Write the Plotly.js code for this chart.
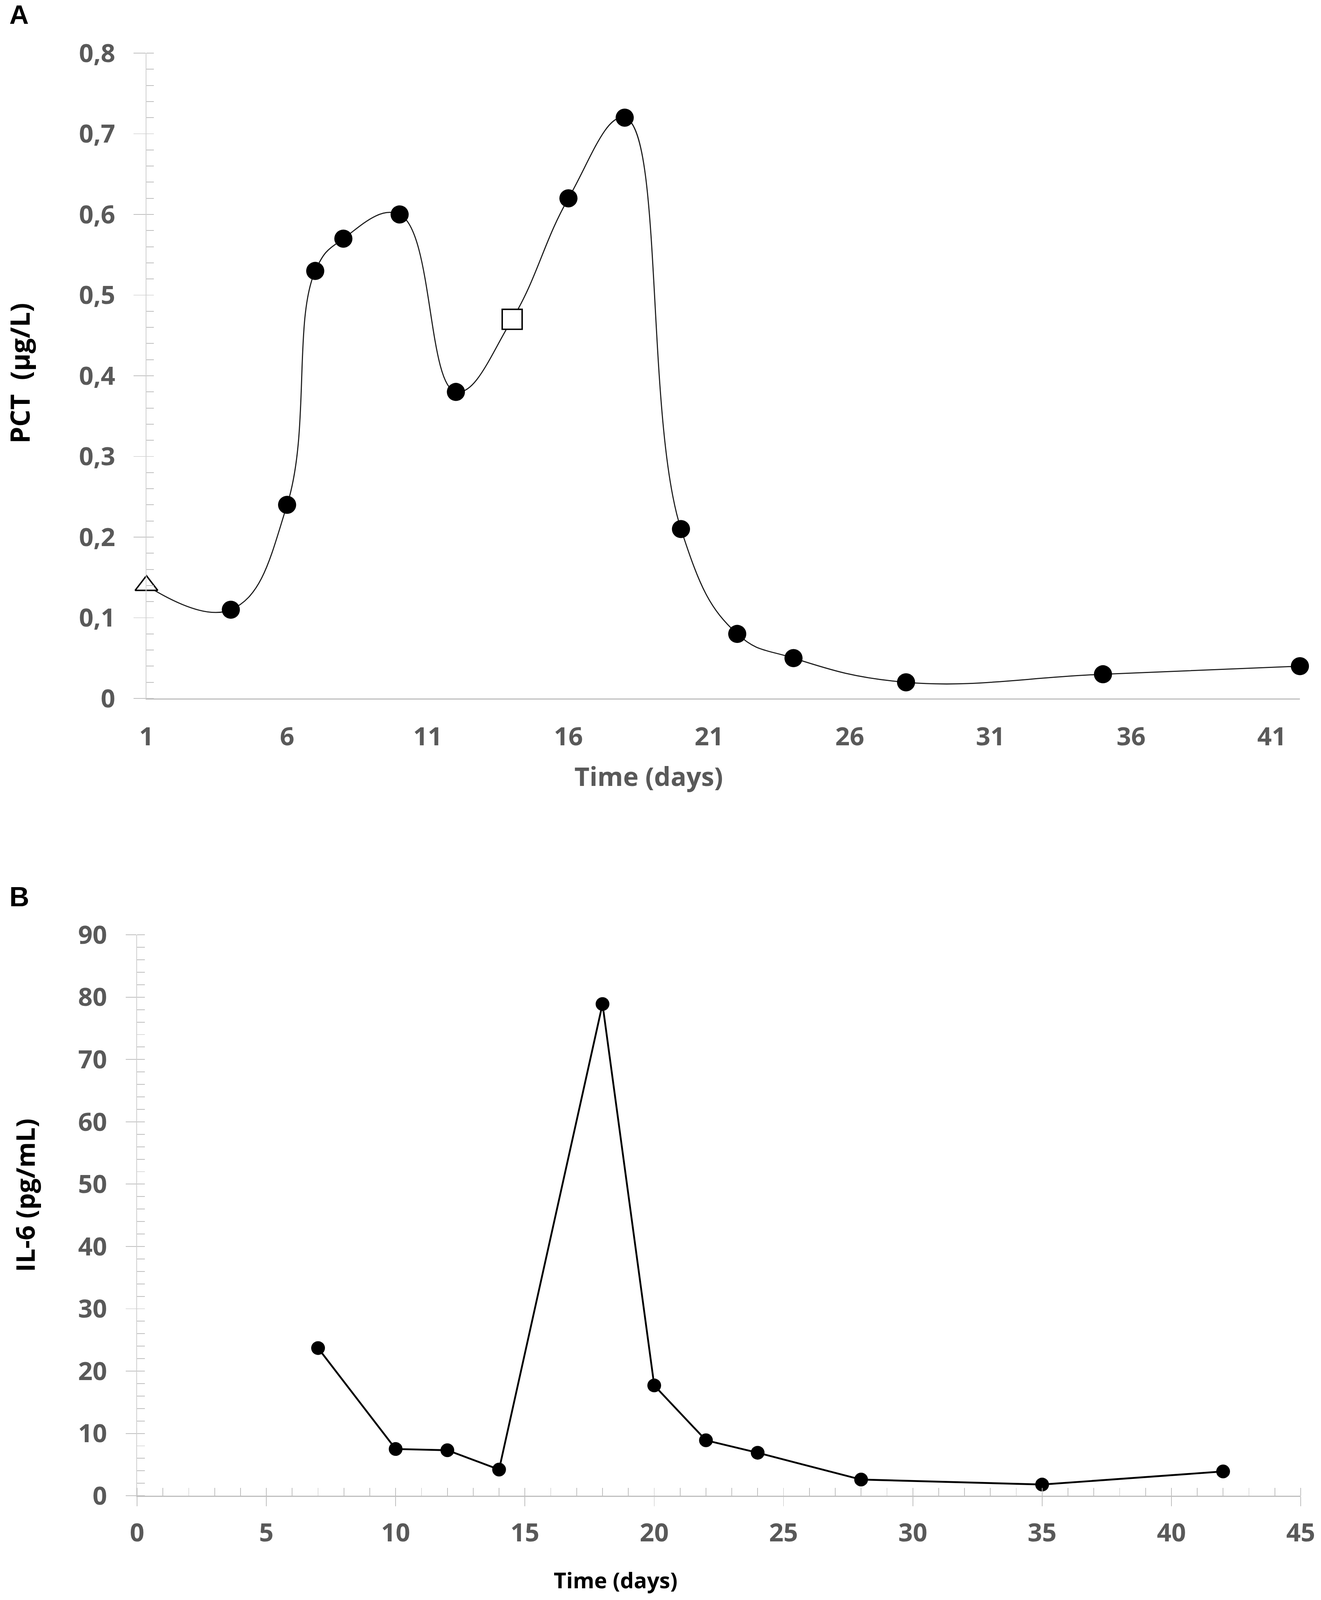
<!DOCTYPE html>
<html>
<head>
<meta charset="utf-8">
<script src="https://cdn.plot.ly/plotly-3.0.1.min.js"></script>
<style>
  html, body { margin: 0; padding: 0; background: #ffffff; overflow: hidden; }
  #chart { display: block; }
</style>
</head>
<body>
<div id="chart"></div>
<script>
// ---- Panel A: PCT (µg/L) ----
const pctDays   = [1, 4, 6, 7, 8, 10, 12, 14, 16, 18, 20, 22, 24, 28, 35, 42];
const pctValues = [0.14, 0.11, 0.24, 0.53, 0.57, 0.60, 0.38, 0.47, 0.62, 0.72, 0.21, 0.08, 0.05, 0.02, 0.03, 0.04];
// point kind: 'admission' (open triangle), 'event' (open square), 'sample' (filled circle)
const pctKinds  = ['admission', 'sample', 'sample', 'sample', 'sample', 'sample', 'sample', 'event',
                   'sample', 'sample', 'sample', 'sample', 'sample', 'sample', 'sample', 'sample'];

// ---- Panel B: IL-6 (pg/mL) ----
const il6Days   = [7, 10, 12, 14, 18, 20, 22, 24, 28, 35, 42];
const il6Values = [23.7, 7.5, 7.3, 4.2, 78.9, 17.7, 8.9, 6.9, 2.6, 1.8, 3.9];

// ---- Text ----
const panelLabels = ['A', 'B'];
const pctYTitle = 'PCT  (µg/L)';
const il6YTitle = 'IL-6 (pg/mL)';
const xTitle = 'Time (days)';

// ---- Geometry (reference pixels -> paper / screen) ----
const W0 = 3383, H0 = 4758;
const vw = window.innerWidth || W0;
const vh = window.innerHeight || H0;
const sx = Math.min(1, vw / W0);
const sy = Math.min(1, vh / H0);
const sf = Math.sqrt(sx * sy);
const W = Math.floor(W0 * sx), H = Math.floor(H0 * sy);
const px = v => v / W0;
const py = v => 1 - v / H0;
const hx = v => v * sx;   // horizontal pixel lengths
const vy = v => v * sy;   // vertical pixel lengths
const fs = v => v * sf;   // font / marker sizes

document.getElementById('chart').style.width = W + 'px';
document.getElementById('chart').style.height = H + 'px';

function pick(kind, arr) {
  const out = [];
  pctKinds.forEach((k, i) => { if (k === kind) out.push(arr[i]); });
  return out;
}

const tickSize = fs(70);
const tickFont = { family: 'Open Sans, DejaVu Sans, sans-serif', size: tickSize, color: '#595959', weight: 'bold' };
const axisGrey = '#BFBFBF';

// label offsets (screen px): x labels centre below axis, y labels right-edge gap from axis
const xStandA = Math.max(0, Math.round(vy(113) - 0.9 * tickSize));
const xStandB = Math.max(0, Math.round(vy(110) - vy(28) - 0.9 * tickSize));
const yStandA = Math.max(0, Math.round(hx(82) - hx(31) - 17));
const yStandB = Math.max(0, Math.round(hx(79) - hx(27) - 17));

const traces = [
  { x: pctDays, y: pctValues, xaxis: 'x', yaxis: 'y', type: 'scatter', mode: 'lines', cliponaxis: false,
    line: { shape: 'spline', smoothing: 1.2, color: '#1a1a1a', width: fs(3) }, hoverinfo: 'skip' },
  { x: pick('sample', pctDays), y: pick('sample', pctValues), xaxis: 'x', yaxis: 'y', type: 'scatter', mode: 'markers',
    cliponaxis: false,
    marker: { symbol: 'circle', size: fs(50), color: '#000000', line: { width: 0 } } },
  { x: pick('admission', pctDays), y: pick('admission', pctValues), xaxis: 'x', yaxis: 'y', type: 'scatter', mode: 'markers',
    cliponaxis: false,
    marker: { symbol: 'triangle-up', size: fs(54), color: '#ffffff', line: { width: fs(4), color: '#000000' } } },
  { x: pick('event', pctDays), y: pick('event', pctValues), xaxis: 'x', yaxis: 'y', type: 'scatter', mode: 'markers',
    cliponaxis: false,
    marker: { symbol: 'square', size: fs(55), color: '#ffffff', line: { width: fs(4), color: '#000000' } } },
  { x: il6Days, y: il6Values, xaxis: 'x2', yaxis: 'y2', type: 'scatter', mode: 'lines+markers', cliponaxis: false,
    line: { color: '#000000', width: fs(5) },
    marker: { symbol: 'circle', size: fs(38), color: '#000000' } }
];

const layout = {
  width: W, height: H, autosize: false,
  margin: { l: 0, r: 0, t: 0, b: 0, pad: 0 },
  paper_bgcolor: '#ffffff', plot_bgcolor: '#ffffff',
  showlegend: false,
  separators: ', ',
  xaxis: {
    domain: [px(375), px(3329)], anchor: 'y', range: [1, 42], tick0: 1, dtick: 5,
    showgrid: false, zeroline: false, showline: true, linecolor: axisGrey, linewidth: fs(3),
    ticks: '', tickfont: tickFont, ticklabelstandoff: xStandA
  },
  yaxis: {
    domain: [py(2077), py(158)], anchor: 'x', range: [0, 0.8], dtick: 0.1, tick0: 0,
    showgrid: false, zeroline: false, showline: true, linecolor: '#CFCFCF', linewidth: fs(2),
    ticks: 'outside', ticklen: hx(31), tickwidth: fs(2), tickcolor: axisGrey,
    minor: { dtick: 0.02, ticks: 'inside', ticklen: hx(19), tickwidth: fs(2), tickcolor: axisGrey, showgrid: false },
    tickfont: tickFont, ticklabelstandoff: yStandA
  },
  yaxis3: {
    overlaying: 'y', anchor: 'x', side: 'left', range: [0, 0.8], dtick: 0.1, tick0: 0,
    showgrid: false, zeroline: false, showline: false, showticklabels: false,
    ticks: 'inside', ticklen: hx(24), tickwidth: fs(2), tickcolor: axisGrey
  },
  xaxis2: {
    domain: [px(351), px(3331)], anchor: 'y2', range: [0, 45], tick0: 0, dtick: 5,
    showgrid: false, zeroline: false, showline: true, linecolor: axisGrey, linewidth: fs(3),
    ticks: 'outside', ticklen: vy(28), tickwidth: fs(2), tickcolor: axisGrey,
    minor: { dtick: 1, ticks: 'inside', ticklen: vy(23), tickwidth: fs(2), tickcolor: axisGrey, showgrid: false },
    tickfont: tickFont, ticklabelstandoff: xStandB
  },
  xaxis3: {
    overlaying: 'x2', anchor: 'y2', side: 'bottom', range: [0, 45], tick0: 0, dtick: 5,
    showgrid: false, zeroline: false, showline: false, showticklabels: false,
    ticks: 'inside', ticklen: vy(28), tickwidth: fs(2), tickcolor: axisGrey
  },
  yaxis2: {
    domain: [py(4448), py(2780)], anchor: 'x2', range: [0, 90], dtick: 10, tick0: 0,
    showgrid: false, zeroline: false, showline: true, linecolor: '#CFCFCF', linewidth: fs(2),
    ticks: 'outside', ticklen: hx(27), tickwidth: fs(2), tickcolor: axisGrey,
    minor: { dtick: 2, ticks: 'inside', ticklen: hx(20), tickwidth: fs(2), tickcolor: axisGrey, showgrid: false },
    tickfont: tickFont, ticklabelstandoff: yStandB
  },
  yaxis4: {
    overlaying: 'y2', anchor: 'x2', side: 'left', range: [0, 90], dtick: 10, tick0: 0,
    showgrid: false, zeroline: false, showline: false, showticklabels: false,
    ticks: 'inside', ticklen: hx(27), tickwidth: fs(2), tickcolor: axisGrey
  },
  annotations: [
    { text: panelLabels[0], xref: 'paper', yref: 'paper', x: px(22), y: py(44), xanchor: 'left', yanchor: 'middle',
      showarrow: false, font: { family: 'Liberation Sans, Arial, sans-serif', size: fs(74), color: '#000000', weight: 'bold' } },
    { text: panelLabels[1], xref: 'paper', yref: 'paper', x: px(22), y: py(2666), xanchor: 'left', yanchor: 'middle',
      showarrow: false, font: { family: 'Liberation Sans, Arial, sans-serif', size: fs(76), color: '#000000', weight: 'bold' } },
    { text: pctYTitle, xref: 'paper', yref: 'paper', x: px(50), y: py(1110), xanchor: 'center', yanchor: 'middle',
      textangle: -90, showarrow: false,
      font: { family: 'Open Sans, DejaVu Sans, sans-serif', size: fs(74), color: '#000000', weight: 'bold' } },
    { text: xTitle, xref: 'paper', yref: 'paper', x: px(1661), y: py(2308), xanchor: 'center', yanchor: 'middle',
      showarrow: false,
      font: { family: 'Open Sans, DejaVu Sans, sans-serif', size: fs(72), color: '#595959', weight: 'bold' } },
    { text: il6YTitle, xref: 'paper', yref: 'paper', x: px(63), y: py(3555), xanchor: 'center', yanchor: 'middle',
      textangle: -90, showarrow: false,
      font: { family: 'Open Sans, DejaVu Sans, sans-serif', size: fs(72), color: '#000000', weight: 'bold' } },
    { text: xTitle, xref: 'paper', yref: 'paper', x: px(1576), y: py(4698), xanchor: 'center', yanchor: 'middle',
      showarrow: false,
      font: { family: 'Open Sans, DejaVu Sans, sans-serif', size: fs(60), color: '#000000', weight: 'bold' } }
  ]
};

Plotly.newPlot('chart', traces, layout, { staticPlot: true, displayModeBar: false });
</script>
</body>
</html>
